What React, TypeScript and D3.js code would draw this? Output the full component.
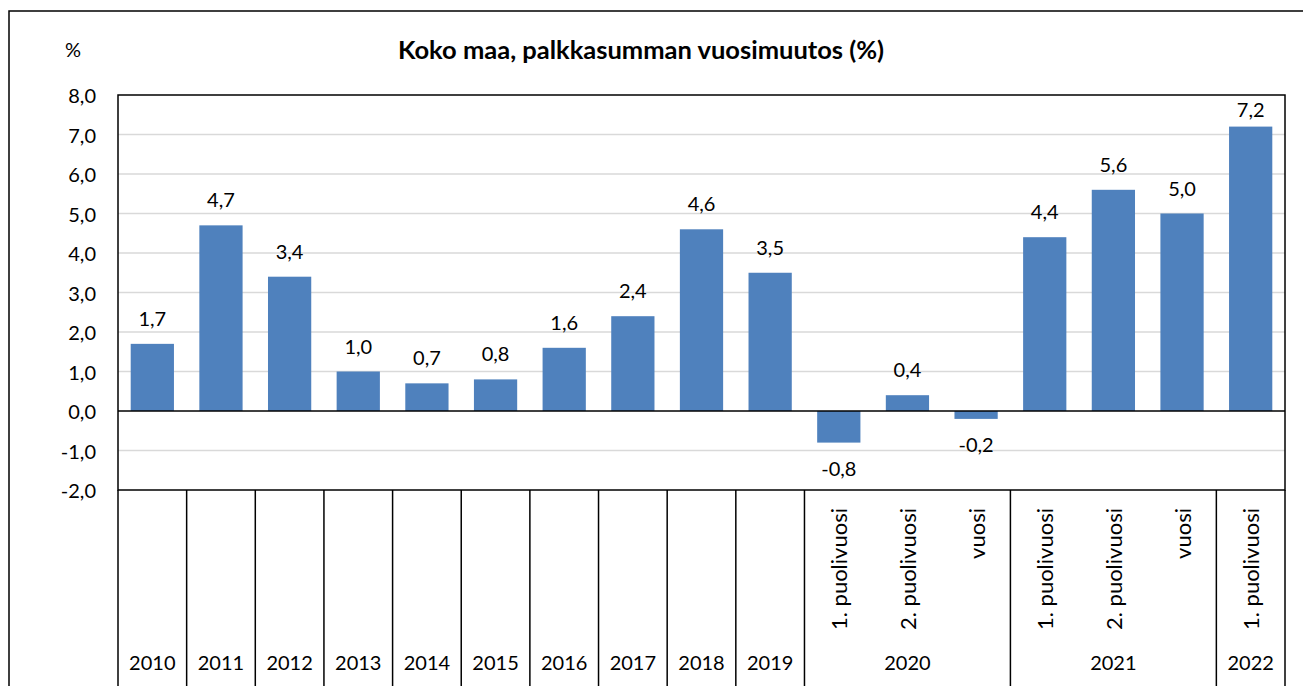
import React from 'react'
import * as d3 from 'd3'

// chart data
const years = ['2010', '2011', '2012', '2013', '2014', '2015', '2016', '2017', '2018', '2019',
  '2020', '2020', '2020', '2021', '2021', '2021', '2022']
const periods = ['', '', '', '', '', '', '', '', '', '',
  '1. puolivuosi', '2. puolivuosi', 'vuosi', '1. puolivuosi', '2. puolivuosi', 'vuosi', '1. puolivuosi']
const values = [1.7, 4.7, 3.4, 1.0, 0.7, 0.8, 1.6, 2.4, 4.6, 3.5, -0.8, 0.4, -0.2, 4.4, 5.6, 5.0, 7.2]
const yTicks = [-2, -1, 0, 1, 2, 3, 4, 5, 6, 7, 8]

const title = 'Koko maa, palkkasumman vuosimuutos (%)'
const unit = '%'

const W = 1303
const H = 686
const margin = { top: 95, right: 18, bottom: 196, left: 118 }
const font = 'Lato, "Open Sans", sans-serif'
const barColor = '#4f81bd'

const fmt = (v: number) => v.toFixed(1).replace('.', ',')

export default function App() {
  const idx = values.map((_, i) => i)
  const x = d3.scaleBand<number>()
    .domain(idx)
    .range([margin.left, W - margin.right])
    .paddingInner(0.37)
    .paddingOuter(0.185)
  const y = d3.scaleLinear()
    .domain([-2, 8])
    .range([H - margin.bottom, margin.top])

  const step = x.step()
  const left = margin.left
  const right = W - margin.right
  const bottom = y(-2)

  // group consecutive years for the lower axis row
  const groups: { year: string, start: number, end: number }[] = []
  years.forEach((yr, i) => {
    const last = groups[groups.length - 1]
    if (last && last.year === yr) last.end = i
    else groups.push({ year: yr, start: i, end: i })
  })
  const bandLeft = (i: number) => left + step * i

  return (
    <svg width={W} height={H} style={{ position: 'absolute', left: 0, top: 0, background: '#fff' }}
      fontFamily={font}>
      {/* outer frame */}
      <rect x={9} y={11} width={W + 20} height={H + 20} fill="#fff" stroke="#000" strokeWidth={1.5} />

      <text x={73} y={57} textAnchor="middle" fontSize={20}>{unit}</text>
      <text x={641} y={59} textAnchor="middle" fontSize={25.5} fontWeight="bold">{title}</text>

      {/* gridlines */}
      {yTicks.filter(t => t !== 0 && t !== 8 && t !== -2).map(t => (
        <line key={t} x1={left} x2={right} y1={y(t)} y2={y(t)} stroke="#d9d9d9" strokeWidth={1.5} />
      ))}

      {/* y tick labels */}
      {yTicks.map(t => (
        <text key={t} x={96} y={y(t)} textAnchor="end" dominantBaseline="central" fontSize={20}>{fmt(t)}</text>
      ))}

      {/* bars */}
      {values.map((v, i) => (
        <rect key={i} x={x(i)} width={x.bandwidth()} y={y(Math.max(0, v))}
          height={Math.abs(y(v) - y(0))} fill={barColor} />
      ))}

      {/* value labels */}
      {values.map((v, i) => {
        const cx = (x(i) as number) + x.bandwidth() / 2
        const ty = v >= 0 ? Math.max(y(v) - 18, margin.top + 22) : y(v) + 33
        return <text key={i} x={cx} y={ty} textAnchor="middle" fontSize={20}>{fmt(v)}</text>
      })}

      {/* zero line and plot frame */}
      <line x1={left} x2={right} y1={y(0)} y2={y(0)} stroke="#000" strokeWidth={1.5} />
      <rect x={left} y={margin.top} width={right - left} height={bottom - margin.top}
        fill="none" stroke="#000" strokeWidth={1.5} />

      {/* category axis */}
      {groups.map((g, k) => (
        <line key={'s' + k} x1={bandLeft(g.start)} x2={bandLeft(g.start)} y1={bottom} y2={H}
          stroke="#000" strokeWidth={1.5} />
      ))}
      <line x1={right} x2={right} y1={bottom} y2={H} stroke="#000" strokeWidth={1.5} />

      {periods.map((p, i) => p ? (
        <text key={'p' + i} transform={`translate(${bandLeft(i) + step / 2},508) rotate(-90)`}
          textAnchor="end" dominantBaseline="central" fontSize={22}>{p}</text>
      ) : null)}

      {groups.map((g, k) => (
        <text key={'g' + k} x={(bandLeft(g.start) + bandLeft(g.end + 1)) / 2} y={670}
          textAnchor="middle" fontSize={20}>{g.year}</text>
      ))}
    </svg>
  )
}
